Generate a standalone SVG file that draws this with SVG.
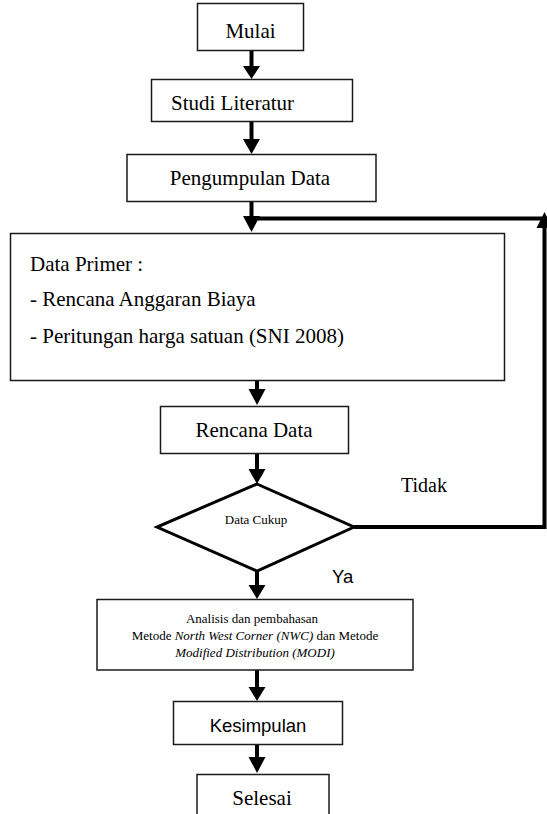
<svg xmlns="http://www.w3.org/2000/svg" width="547" height="814" viewBox="0 0 547 814">
<style>
.box{fill:#fff;stroke:#1a1a1a;stroke-width:1.5}
.dia{fill:#fff;stroke:#000;stroke-width:3;stroke-linejoin:miter}
.t{font-family:"Liberation Serif","Times New Roman",serif;font-size:21px;fill:#000}
.c{text-anchor:middle}
.s{font-family:"Liberation Sans",Arial,sans-serif;font-size:18.5px;fill:#000}
.sm{font-family:"Liberation Serif","Times New Roman",serif;font-size:13px;fill:#000}
.it{font-style:italic}
.ln{fill:none;stroke:#000;stroke-width:4}
.hd{fill:#000}
</style>
<rect width="547" height="814" fill="#fff"/>
<g id="connectors">
  <line class="ln" x1="251.5" y1="51" x2="251.5" y2="68"/>
  <polygon class="hd" points="243,66 260,66 251.5,79"/>
  <line class="ln" x1="251.5" y1="122" x2="251.5" y2="141"/>
  <polygon class="hd" points="243,139 260,139 251.5,154"/>
  <line class="ln" x1="251.5" y1="202" x2="251.5" y2="218"/>
  <polygon class="hd" points="243,216 260,216 251.5,232"/>
  <polyline class="ln" points="251.5,218.5 544.5,218.5"/>
  <polyline class="ln" points="354,527 544.5,527 544.5,222"/>
  <polygon class="hd" points="536.5,228 552.5,228 544.5,212"/>
  <line class="ln" x1="257" y1="381" x2="257" y2="392"/>
  <polygon class="hd" points="248.5,389 265.5,389 257,405"/>
  <line class="ln" x1="257" y1="453" x2="257" y2="472"/>
  <polygon class="hd" points="248.5,469 265.5,469 257,484"/>
  <line class="ln" x1="257" y1="571" x2="257" y2="588"/>
  <polygon class="hd" points="248.5,585 265.5,585 257,599"/>
  <line class="ln" x1="257" y1="670" x2="257" y2="690"/>
  <polygon class="hd" points="248.5,687 265.5,687 257,701"/>
  <line class="ln" x1="257" y1="744" x2="257" y2="760"/>
  <polygon class="hd" points="248.5,757 265.5,757 257,773"/>
</g>
<g id="mulai">
  <rect class="box" x="197.5" y="3.5" width="106" height="47"/>
  <text class="t c" x="250.5" y="38">Mulai</text>
</g>
<g id="studi">
  <rect class="box" x="151.5" y="79.5" width="201" height="42"/>
  <text class="t" x="171" y="110">Studi Literatur</text>
</g>
<g id="pengumpulan">
  <rect class="box" x="127" y="154.5" width="249" height="47"/>
  <text class="t c" x="250" y="185">Pengumpulan Data</text>
</g>
<g id="data-primer">
  <rect class="box" x="10.5" y="233.5" width="494" height="147"/>
  <text class="t" x="30" y="271">Data Primer :</text>
  <text class="t" x="30" y="306">- Rencana Anggaran Biaya</text>
  <text class="t" x="30" y="343">- Peritungan harga satuan (SNI 2008)</text>
</g>
<g id="rencana">
  <rect class="box" x="160.5" y="406.5" width="188" height="47"/>
  <text class="t c" x="254" y="437">Rencana Data</text>
</g>
<g id="cukup">
  <polygon class="dia" points="257,484 354,527 257,571 157,527"/>
  <text class="sm c" x="256" y="524">Data Cukup</text>
</g>
<g id="label-tidak">
  <text class="t" x="401" y="492" style="font-size:20px">Tidak</text>
</g>
<g id="label-ya">
  <text class="s" x="332" y="583">Ya</text>
</g>
<g id="analisis">
  <rect class="box" x="97" y="599.5" width="316" height="70.5"/>
  <text class="sm c" x="252" y="623">Analisis dan pembahasan</text>
  <text class="sm c" x="255" y="640">Metode <tspan class="it">North West Corner (NWC)</tspan> dan Metode</text>
  <text class="sm c it" x="255" y="657">Modified Distribution (MODI)</text>
</g>
<g id="kesimpulan">
  <rect class="box" x="173.5" y="701.5" width="169" height="43"/>
  <text class="s c" x="258" y="732">Kesimpulan</text>
</g>
<g id="selesai">
  <rect class="box" x="197" y="774.5" width="132" height="50"/>
  <text class="t c" x="262" y="805">Selesai</text>
</g>
</svg>
